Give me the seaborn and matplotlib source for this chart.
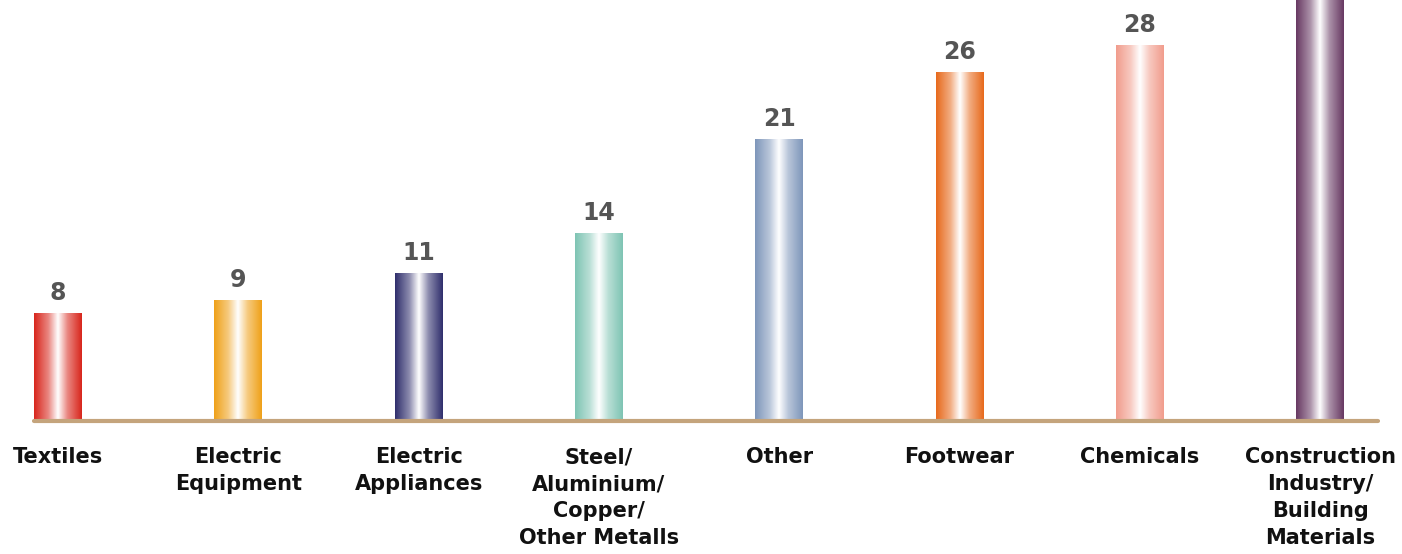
import numpy as np
import pandas as pd
import matplotlib
matplotlib.use('Agg')
import matplotlib.pyplot as plt
from matplotlib.colors import LinearSegmentedColormap, to_rgb
import seaborn as sns

# Datos del gráfico
categorias = ['Textiles', 'Electric\nEquipment', 'Electric\nAppliances',
              'Steel/\nAluminium/\nCopper/\nOther Metalls', 'Other', 'Footwear',
              'Chemicals', 'Construction\nIndustry/\nBuilding\nMaterials']
valores = [8, 9, 11, 14, 21, 26, 28, 35]
colores = ['#d8251b', '#efa018', '#2f2e6c', '#7ec4b3', '#7e96ba',
           '#e7691b', '#f19c8c', '#673862']

df = pd.DataFrame({'categoria': categorias, 'valor': valores})

sns.set_style('white')
plt.rcParams['font.family'] = ['DejaVu Sans']

fig = plt.figure(figsize=(14.02, 5.54), dpi=100)
ax = fig.add_axes([0, 133 / 554, 1, 421 / 554])

sns.barplot(data=df, x='categoria', y='valor', hue='categoria', palette=colores,
            width=0.266, legend=False, ax=ax, saturation=1)

# Degradado horizontal en cada barra (borde oscuro, centro blanco)
grad = np.linspace(0, 1, 256).reshape(1, -1)
for patch, col in zip(ax.patches, colores):
    c = np.array(to_rgb(col))
    mid = c + (1 - c) * 0.45
    cmap = LinearSegmentedColormap.from_list(
        'g', [(0, c), (0.3, mid), (0.5, (1, 1, 1)), (0.7, mid), (1, c)])
    x0, w, h = patch.get_x(), patch.get_width(), patch.get_height()
    ax.imshow(grad, extent=[x0, x0 + w, 0, h], aspect='auto', cmap=cmap,
              zorder=2, interpolation='bilinear')
    patch.set_alpha(0)

for cont in ax.containers:
    ax.bar_label(cont, padding=6, fontsize=17, fontweight='bold', color='#555555',
                 zorder=3)

ax.set_xlim(-0.322, 7.454)
ax.set_ylim(0, 31.4)
ax.axhline(0, xmin=34 / 1402, xmax=1378 / 1402, color='#c4a47c', lw=3, zorder=4,
           clip_on=False)

ax.set_xlabel('')
ax.set_ylabel('')
ax.set_yticks([])
ax.tick_params(axis='x', length=0, pad=19)
ax.set_xticks(range(len(categorias)))
ax.set_xticklabels(categorias, fontsize=15, fontweight='bold', color='#111111',
                   linespacing=1.42, va='top')
sns.despine(ax=ax, left=True, bottom=True)

fig.savefig('out.png', dpi=100)
